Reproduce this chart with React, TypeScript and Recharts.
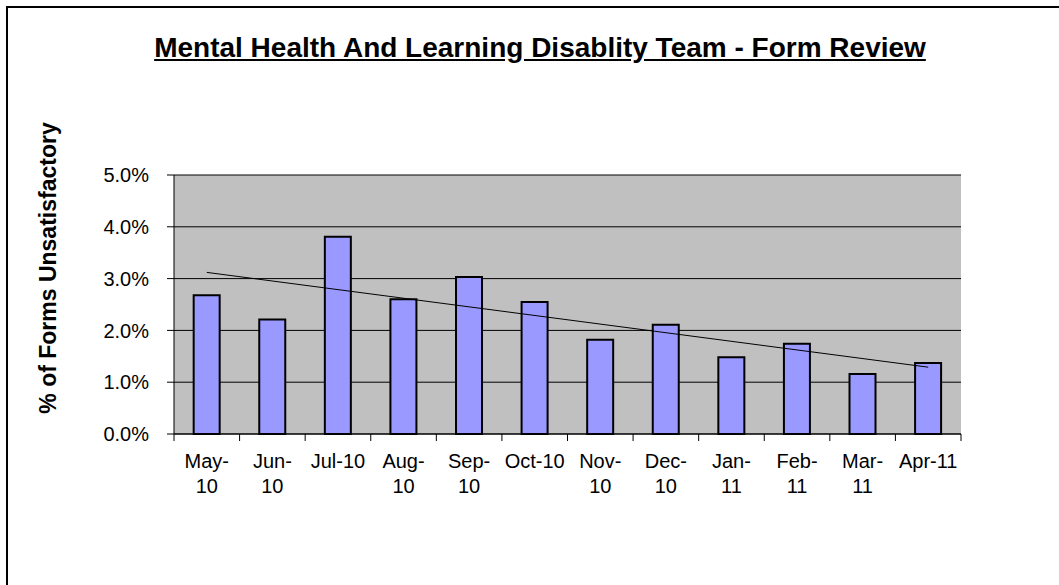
import React from "react";
import {
  ComposedChart,
  Bar,
  Line,
  XAxis,
  YAxis,
  CartesianGrid,
} from "recharts";

const months = ["May-10", "Jun-10", "Jul-10", "Aug-10", "Sep-10", "Oct-10", "Nov-10", "Dec-10", "Jan-11", "Feb-11", "Mar-11", "Apr-11"];
const tickLines = [["May-", "10"], ["Jun-", "10"], ["Jul-10"], ["Aug-", "10"], ["Sep-", "10"], ["Oct-10"], ["Nov-", "10"], ["Dec-", "10"], ["Jan-", "11"], ["Feb-", "11"], ["Mar-", "11"], ["Apr-11"]];
const unsatisfactory = [2.68, 2.21, 3.81, 2.6, 3.03, 2.55, 1.82, 2.11, 1.48, 1.74, 1.16, 1.37];
const trendRead = [3.12, null, null, null, null, null, null, null, null, null, null, 1.29];
const yTicks = [0, 1, 2, 3, 4, 5];

const data = months.map((m, i) => ({
  month: m,
  value: unsatisfactory[i],
  trend: trendRead[i],
}));

const FONT = "'Liberation Sans', Arial, sans-serif";

const XTick = (props: any) => {
  const { x, y, payload, index } = props;
  const half = payload && payload.offset ? payload.offset : 787 / 24;
  const lines = tickLines[index] || [String(payload.value)];
  return (
    <g>
      <line x1={x - half} x2={x - half} y1={y} y2={y + 7} stroke="#000" strokeWidth={1} />
      {index === months.length - 1 && (
        <line x1={x + half} x2={x + half} y1={y} y2={y + 7} stroke="#000" strokeWidth={1} />
      )}
      {lines.map((l: string, k: number) => (
        <text key={k} x={x} y={y + 34 + k * 25} textAnchor="middle" fontFamily={FONT} fontSize={20} fill="#000">
          {l}
        </text>
      ))}
    </g>
  );
};

export default function App() {
  return (
    <div style={{ position: "fixed", left: 0, top: 0, width: 1059, height: 585, background: "#fff", overflow: "hidden" }}>
      <div style={{ position: "absolute", left: 6, top: 6, width: 1070, height: 600, borderLeft: "2px solid #000", borderTop: "2px solid #000" }} />
      <div
        style={{
          position: "absolute",
          left: 0,
          width: 1080,
          top: 34,
          textAlign: "center",
          fontFamily: FONT,
          fontWeight: "bold",
          fontSize: 28,
          lineHeight: "28px",
          textDecoration: "underline",
          color: "#000",
          whiteSpace: "nowrap",
        }}
      >
        Mental Health And Learning Disablity Team - Form Review
      </div>
      <div
        style={{
          position: "absolute",
          left: 48 - 200,
          top: 268 - 14,
          width: 400,
          height: 28,
          lineHeight: "28px",
          textAlign: "center",
          transform: "rotate(-90deg)",
          fontFamily: FONT,
          fontWeight: "bold",
          fontSize: 23,
          color: "#000",
          whiteSpace: "nowrap",
        }}
      >
        % of Forms Unsatisfactory
      </div>
      <div style={{ position: "absolute", left: 0, top: 0 }}>
        <ComposedChart
          width={1059}
          height={585}
          data={data}
          margin={{ top: 175, right: 98, bottom: 81, left: 110 }}
          barCategoryGap="30%"
        >
          <CartesianGrid horizontal={true} vertical={false} stroke="#000" strokeWidth={1} fill="#C0C0C0" fillOpacity={1} />
          <XAxis
            dataKey="month"
            height={70}
            axisLine={{ stroke: "#000", strokeWidth: 1 }}
            tickLine={false}
            tickSize={0}
            tickMargin={0}
            interval={0}
            tick={<XTick />}
          />
          <YAxis
            width={64}
            domain={[0, 5]}
            ticks={yTicks}
            interval={0}
            axisLine={{ stroke: "#000", strokeWidth: 1 }}
            tickLine={{ stroke: "#000", strokeWidth: 1 }}
            tickSize={7}
            tickMargin={18}
            tickFormatter={(v: number) => `${v.toFixed(1)}%`}
            tick={{ fill: "#000", fontFamily: FONT, fontSize: 20 }}
          />
          <YAxis
            yAxisId="right"
            orientation="right"
            width={0}
            domain={[0, 5]}
            ticks={yTicks}
            tick={false}
            tickLine={false}
            axisLine={{ stroke: "#808080", strokeWidth: 2 }}
          />
          <Bar dataKey="value" fill="#9999FF" stroke="#000" strokeWidth={2} isAnimationActive={false} />
          <Line dataKey="trend" stroke="#000" strokeWidth={1} dot={false} connectNulls type="linear" isAnimationActive={false} />
        </ComposedChart>
      </div>
    </div>
  );
}
